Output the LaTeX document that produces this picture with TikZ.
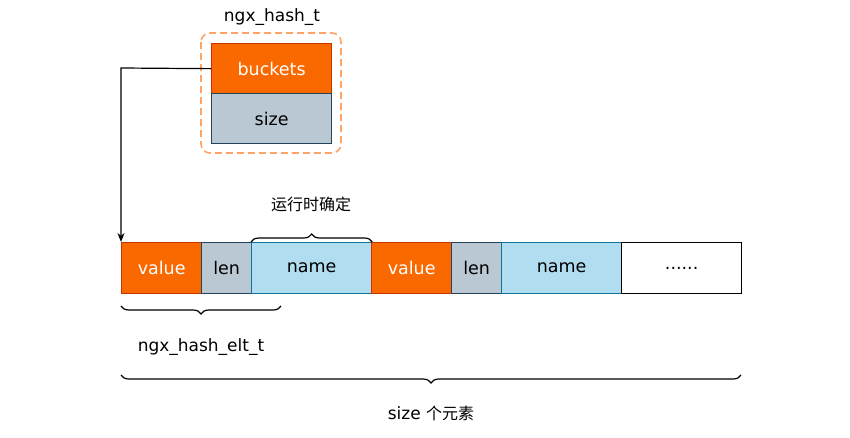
\documentclass[tikz,border=0pt]{standalone}
\usepackage{fontspec}
\setmainfont{DejaVu Sans}
\newfontfamily\cjk{Noto Sans CJK SC}
\usetikzlibrary{decorations.pathreplacing,arrows.meta}
\definecolor{orfill}{HTML}{FA6800}
\definecolor{ordraw}{HTML}{C73500}
\definecolor{grfill}{HTML}{BAC8D3}
\definecolor{grdraw}{HTML}{23445D}
\definecolor{blfill}{HTML}{B1DDF0}
\definecolor{bldraw}{HTML}{10739E}
\definecolor{dashc}{HTML}{FFA366}
\begin{document}
\begin{tikzpicture}[x=1pt,y=-1pt,
  cell/.style={draw, line width=1.3pt, inner sep=0pt, anchor=north west, font=\fontsize{17.5}{19}\selectfont},
  orcell/.style={cell, fill=orfill, draw=ordraw, text=white},
  grcell/.style={cell, fill=grfill, draw=grdraw},
  blcell/.style={cell, fill=blfill, draw=bldraw},
  whcell/.style={cell, fill=white, draw=black},
  lbl/.style={font=\fontsize{17}{19}\selectfont},
  brc/.style={decorate, decoration={brace, amplitude=8pt}, line width=1.2pt}]
\useasboundingbox (0,0) rectangle (850,437);
% hash struct
\node[lbl] (title) at (272,17) {ngx\_hash\_t};
\draw[dashc, line width=1.6pt, dash pattern=on 7pt off 4pt, rounded corners=9pt] (201,33) rectangle (341,153);
\node[orcell, minimum width=120pt, minimum height=50pt] (buckets) at (211,43) {buckets};
\node[grcell, minimum width=120pt, minimum height=50pt] (size) at (211,93) {size};
% row
\node[orcell, minimum width=80pt, minimum height=51pt] (v1) at (121,242) {value};
\node[grcell, minimum width=50pt, minimum height=51pt] (l1) at (201,242) {len};
\node[blcell, minimum width=120pt, minimum height=51pt] (n1) at (251,242) {name};
\node[orcell, minimum width=80pt, minimum height=51pt] (v2) at (371,242) {value};
\node[grcell, minimum width=50pt, minimum height=51pt] (l2) at (451,242) {len};
\node[blcell, minimum width=120pt, minimum height=51pt] (n2) at (501,242) {name};
\node[whcell, minimum width=120pt, minimum height=51pt] (dots) at (621,242) {......};
% arrow
\draw[line width=1.2pt, -{Stealth[length=9pt,width=7pt]}] (buckets.west) -- (121,68) -- (v1.north west);
% braces
\draw[brc] (n1.north west) -- (n1.north east);
\node[font=\cjk\fontsize{16}{18}\selectfont] (run) at (311,204) {运行时确定};
\coordinate (b2a) at (121,306);
\coordinate (b2b) at (281,306);
\draw[brc] (b2b) -- (b2a);
\node[lbl] (elt) at (201,347) {ngx\_hash\_elt\_t};
\coordinate (b3a) at (121,375);
\coordinate (b3b) at (741,375);
\draw[brc] (b3b) -- (b3a);
\node[lbl] (cnt) at (431,413) {size {\cjk\fontsize{16}{18}\selectfont 个元素}};
\end{tikzpicture}
\end{document}
